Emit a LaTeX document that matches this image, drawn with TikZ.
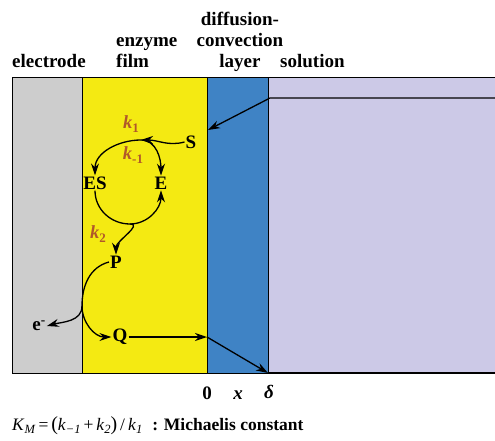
\documentclass[tikz,border=0pt]{standalone}
\usepackage{fontspec}
\setmainfont{Liberation Serif}
\usetikzlibrary{arrows.meta, positioning}
\definecolor{electrodegray}{HTML}{CDCDCD}
\definecolor{filmyellow}{HTML}{F4EA12}
\definecolor{layerblue}{HTML}{3F83C5}
\definecolor{solutionlilac}{HTML}{CCC9E7}
\definecolor{rateorange}{HTML}{B0582A}
\newcommand{\rk}[1]{\textbf{\textit{k}}\raisebox{-0.4ex}{\fontsize{13}{13}\selectfont\textbf{#1}}}
\newcommand{\sub}[1]{\raisebox{-0.4ex}{\fontsize{12.5}{12.5}\selectfont\textit{#1}}}

\begin{document}
\begin{tikzpicture}[
    x=1pt, y=-1pt,
    lbl/.style={font=\bfseries\fontsize{19}{21}\selectfont, inner sep=0pt},
    species/.style={font=\bfseries\fontsize{19}{21}\selectfont, inner sep=1pt},
    rate/.style={font=\fontsize{18.5}{20}\selectfont, text=rateorange, inner sep=0pt},
    arrow/.style={-{Stealth[length=12pt,width=8pt]}, line width=1.3pt}
]
    \useasboundingbox (0,0) rectangle (495,441);

    % layers
    \fill[electrodegray] (12,78) rectangle (82,373);
    \fill[filmyellow] (82,78) rectangle (207,373);
    \fill[layerblue] (207,78) rectangle (268,373);
    \fill[solutionlilac] (268,78) rectangle (495,373);
    \draw[line width=1pt] (495,78) -- (12,78) -- (12,373) -- (495,373);
    \draw[line width=1pt] (82,78) -- (82,373) (207,78) -- (207,373) (268,78) -- (268,373);
    \draw[line width=1.8pt] (268,373) -- (495,373);

    % layer names
    \node[lbl, anchor=south west] (electrodename) at (12,68) {electrode};
    \node[lbl, anchor=south west, align=left] (filmname) at (116,68) {enzyme\\film};
    \node[lbl, anchor=south, align=center] (layername) at (240,72) {diffusion-\\convection\\layer};
    \node[lbl, anchor=south west] (solutionname) at (280,68) {solution};

    % species
    \node[species] (S) at (191,142) {S};
    \node[species] (ES) at (95,183) {ES};
    \node[species] (E) at (161,183) {E};
    \node[species] (P) at (116,262) {P};
    \node[species] (eminus) at (39,326) {e\textsuperscript{-}};
    \node[species] (Q) at (120,337) {Q};

    % rate constants
    \node[rate] (kone) at (131,124) {\rk{1}};
    \node[rate] (kminus) at (133,155) {\rk{-1}};
    \node[rate] (ktwo) at (98,234) {\rk{2}};

    \coordinate (cycletop) at (141,140);
    \coordinate (cyclebottom) at (130,224);
    \coordinate (branch) at (82,306);
    \coordinate (bulk) at (495,98);
    \coordinate (bulkedge) at (270,98);
    \coordinate (filmS) at (208,130);
    \coordinate (xzero) at (207,337);
    \coordinate (xdelta) at (268,373);

    % enzyme cycle
    \draw[arrow] (S.west) to[out=195,in=0] (cycletop);
    \draw[arrow] (cycletop) to[out=180,in=90] (ES.north);
    \draw[arrow] (cycletop) to[out=0,in=90] (E.north);
    \draw[arrow] (ES.south) to[out=-90,in=180] (cyclebottom) to[out=0,in=-90] (E.south);
    \draw[arrow] (cyclebottom) to[out=0,in=90] (P.north);

    % product at the electrode
    \draw[line width=1.3pt] (P.west) to[out=195,in=90] (branch);
    \draw[arrow] (branch) to[out=-90,in=15] (eminus.east);
    \draw[arrow] (branch) to[out=-90,in=180] (Q.west);

    % transport
    \draw[arrow] (bulk) -- (bulkedge) -- (filmS);
    \draw[arrow] (Q.east) -- (xzero);
    \draw[arrow] (xzero) -- (xdelta);

    % axis and constant
    \node[lbl, anchor=base] (zero) at (207,399) {0};
    \node[lbl, anchor=base, font=\bfseries\itshape\fontsize{19}{21}\selectfont] (xpos) at (238,399) {x};
    \node[lbl, anchor=base, font=\bfseries\itshape\fontsize{19}{21}\selectfont] (delta) at (269,398) {δ};
    \node[anchor=base west, inner sep=0pt, font=\fontsize{17.5}{20}\selectfont] (michaelis) at (12,430)
        {\textit{K}\sub{M}\,=\,{\fontsize{20}{20}\selectfont(}\textit{k}\sub{−1}\,+\,\textit{k}\sub{2}{\fontsize{20}{20}\selectfont)}\,/\,\textit{k}\sub{1}\hspace{10pt}\textbf{: Michaelis constant}};
\end{tikzpicture}
\end{document}
